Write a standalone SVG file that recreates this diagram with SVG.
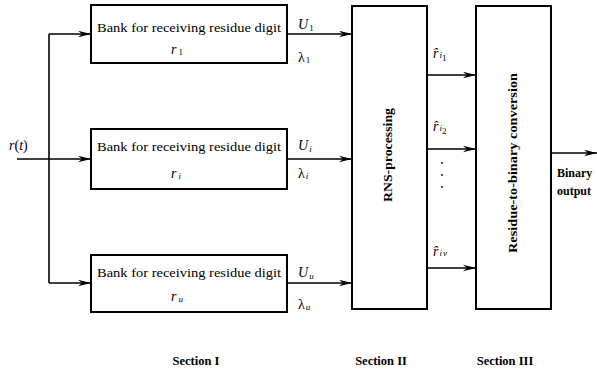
<svg xmlns="http://www.w3.org/2000/svg" width="597" height="372" viewBox="0 0 597 372">
<defs>
<marker id="arr" viewBox="0 0 14 8" refX="13" refY="4" markerWidth="14" markerHeight="8" markerUnits="userSpaceOnUse" orient="auto">
<path d="M0,0.8 L13,4 L0,7.2 L4,4 Z" fill="#000"/>
</marker>
<style>
.box{fill:#fff;stroke:#000;stroke-width:2}
.ln{fill:none;stroke:#000;stroke-width:1.6}
.ar{fill:none;stroke:#000;stroke-width:1.6;marker-end:url(#arr)}
text{font-family:"Liberation Serif","Times New Roman",serif;fill:#000}
.t{font-size:12px}
.m{font-size:14px;font-style:italic}
.g{font-size:14px;font-style:normal}
.s{font-size:9px}
.up{font-style:normal}
.it{font-style:italic}
.sec{font-size:12.5px;font-weight:bold}
</style>
</defs>
<rect width="597" height="372" fill="#fff"/>
<g id="connectors">
<path class="ar" d="M17,159 H91"/>
<path class="ln" d="M49,34 V283"/>
<path class="ar" d="M49,34 H91"/>
<path class="ar" d="M49,283 H91"/>
<path class="ar" d="M287,34 H352"/>
<path class="ar" d="M287,159 H352"/>
<path class="ar" d="M287,283 H352"/>
<path class="ar" d="M427,75 H476"/>
<path class="ar" d="M427,149 H476"/>
<path class="ar" d="M427,268 H476"/>
<path class="ar" d="M551,153 H597"/>
</g>
<g id="input-label">
<text class="m" x="9" y="150">r<tspan class="up">(</tspan>t<tspan class="up">)</tspan></text>
</g>
<g id="bank1">
<rect class="box" x="91" y="5" width="196" height="58"/>
<text class="t" x="189" y="32" text-anchor="middle" textLength="184" lengthAdjust="spacingAndGlyphs">Bank for receiving residue digit</text>
<text class="m" x="171" y="54">r<tspan class="s up" dx="2" dy="1">1</tspan></text>
</g>
<g id="bank2">
<rect class="box" x="91" y="129" width="196" height="60"/>
<text class="t" x="189" y="151" text-anchor="middle" textLength="184" lengthAdjust="spacingAndGlyphs">Bank for receiving residue digit</text>
<text class="m" x="171" y="178">r<tspan class="s" dx="2" dy="1">i</tspan></text>
</g>
<g id="bank3">
<rect class="box" x="91" y="255" width="196" height="57"/>
<text class="t" x="189" y="277" text-anchor="middle" textLength="184" lengthAdjust="spacingAndGlyphs">Bank for receiving residue digit</text>
<text class="m" x="171" y="301">r<tspan class="s" dx="2" dy="1">u</tspan></text>
</g>
<g id="labels-U">
<text class="m" x="298" y="29">U<tspan class="s up" dx="1" dy="2">1</tspan></text>
<text class="g" x="298" y="62">λ<tspan class="s" dx="1" dy="1">1</tspan></text>
<text class="m" x="298" y="150">U<tspan class="s" dx="1" dy="2">i</tspan></text>
<text class="g" x="298" y="178">λ<tspan class="s it" dx="1" dy="1">i</tspan></text>
<text class="m" x="298" y="277">U<tspan class="s" dx="1" dy="2">u</tspan></text>
<text class="g" x="298" y="309">λ<tspan class="s it" dx="1" dy="1">u</tspan></text>
</g>
<g id="rns">
<rect class="box" x="352" y="6" width="75" height="303"/>
<text class="t" transform="translate(392,155) rotate(-90)" text-anchor="middle" font-weight="bold" textLength="94" lengthAdjust="spacingAndGlyphs">RNS-processing</text>
</g>
<g id="labels-r">
<text class="m" x="433" y="58">r̂<tspan class="s" dx="1">i</tspan><tspan class="s up" dy="3">1</tspan></text>
<text class="m" x="433" y="131">r̂<tspan class="s" dx="1">i</tspan><tspan class="s up" dy="3">2</tspan></text>
<text class="m" x="433" y="256">r̂<tspan class="s" dx="1">i</tspan><tspan class="s" dx="1">v</tspan></text>
<circle cx="442" cy="163" r="0.9" fill="#000"/>
<circle cx="442" cy="175" r="0.9" fill="#000"/>
<circle cx="442" cy="187" r="0.9" fill="#000"/>
</g>
<g id="converter">
<rect class="box" x="476" y="6" width="75" height="303"/>
<text class="t" transform="translate(517,163) rotate(-90)" text-anchor="middle" font-weight="bold" textLength="180" lengthAdjust="spacingAndGlyphs">Residue-to-binary conversion</text>
</g>
<g id="output-label">
<text class="t" x="557" y="177" font-weight="bold">Binary</text>
<text class="t" x="557" y="195" font-weight="bold">output</text>
</g>
<g id="sections">
<text class="sec" x="196" y="365" text-anchor="middle">Section I</text>
<text class="sec" x="381" y="365" text-anchor="middle">Section II</text>
<text class="sec" x="505" y="365" text-anchor="middle">Section III</text>
</g>
</svg>
